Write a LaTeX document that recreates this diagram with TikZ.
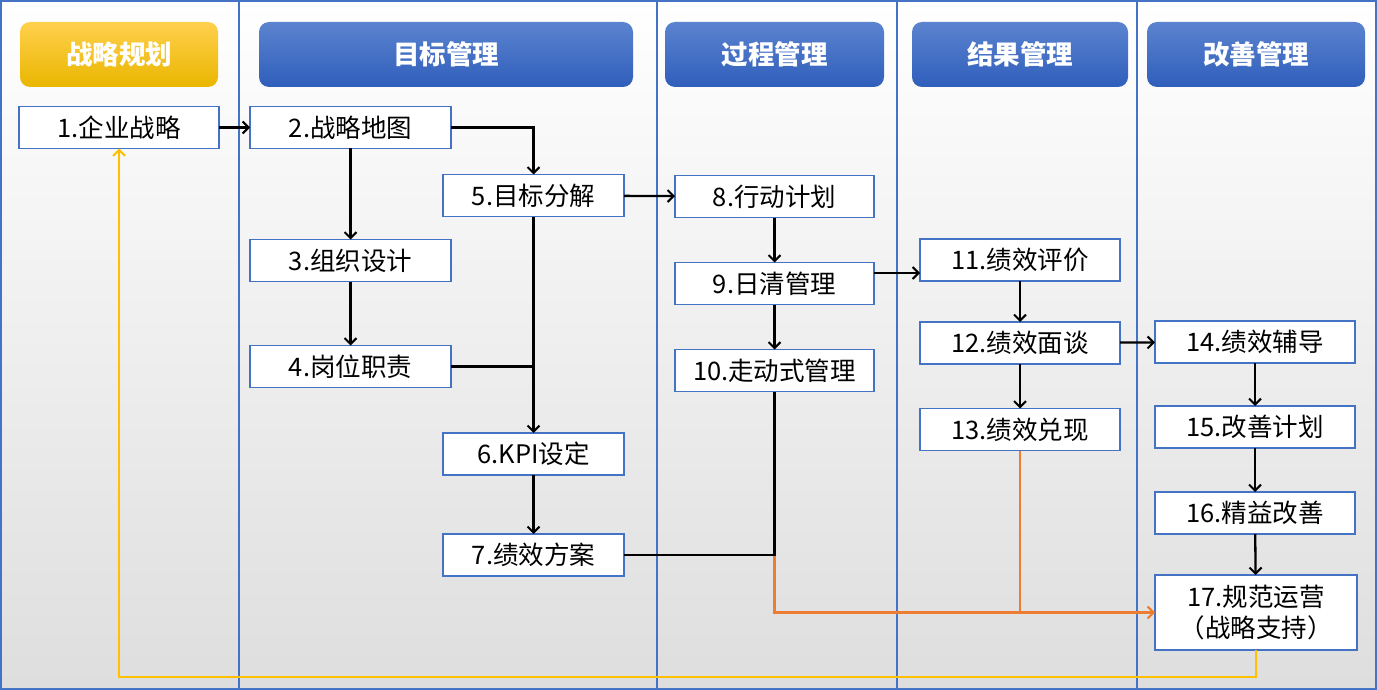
\documentclass[tikz,border=0pt]{standalone}
\usepackage{fontspec}
\setmainfont{Noto Sans CJK SC}
\usetikzlibrary{arrows.meta}
\definecolor{laneblue}{HTML}{4472C4}
\definecolor{hbTop}{HTML}{5B83CF}
\definecolor{hbBot}{HTML}{2F5EBB}
\definecolor{hyTop}{HTML}{FFD04D}
\definecolor{hyMid}{HTML}{FFC000}
\definecolor{hyBot}{HTML}{EAB600}
\definecolor{orgline}{HTML}{ED7D31}
\definecolor{yelline}{HTML}{FFC000}
\tikzset{
  stepbox/.style={draw=laneblue, line width=1.4pt, fill=white, inner sep=0pt, outer sep=0pt,
    minimum height=42pt, font=\fontsize{25.5}{31}\selectfont, align=center},
  headbox/.style={rounded corners=10pt, inner sep=0pt, outer sep=0pt, minimum height=65pt,
    text=white, font=\fontsize{26.5}{31}\selectfont\bfseries},
  bluehead/.style={headbox, top color=hbTop, bottom color=hbBot},
  yellowhead/.style={headbox, top color=hyTop, middle color=hyMid, bottom color=hyBot},
  arr/.style={draw=black, line width=2.3pt, -{Straight Barb[length=6pt,width=12pt,line width=2pt]}},
  plainline/.style={draw=black, line width=2.3pt},
  orgarr/.style={draw=orgline, line width=2.3pt, -{Straight Barb[length=6pt,width=12pt,line width=2pt]}},
  orgline/.style={draw=orgline, line width=2.3pt},
  yelarr/.style={draw=yelline, line width=2.3pt, -{Straight Barb[length=6pt,width=12pt,line width=2pt]}},
  laneline/.style={draw=laneblue, line width=1.8pt},
}
\begin{document}
\begin{tikzpicture}[x=1pt,y=-1pt]
\useasboundingbox (0,0) rectangle (1377,690);
\fill[top color=white, bottom color=black!13] (0,0) rectangle (1377,690);
% lanes
\draw[laneline] (239,0) -- (239,690);
\draw[laneline] (657,0) -- (657,690);
\draw[laneline, line width=1.1pt] (897,0) -- (897,690);
\draw[laneline] (1137,0) -- (1137,690);
\draw[laneline, line width=2.2pt] (1.1,1.1) rectangle (1375.9,688.9);
% headers
\node[yellowhead, minimum width=198pt] (h1) at (119,54.5) {战略规划};
\node[bluehead, minimum width=374pt] (h2) at (446,54.5) {目标管理};
\node[bluehead, minimum width=219pt] (h3) at (774.5,54.5) {过程管理};
\node[bluehead, minimum width=216pt] (h4) at (1020,54.5) {结果管理};
\node[bluehead, minimum width=218pt] (h5) at (1256,54.5) {改善管理};
% boxes
\node[stepbox, minimum width=200pt] (n1) at (119,127.5) {1.企业战略};
\node[stepbox, minimum width=201pt] (n2) at (350.5,127.5) {2.战略地图};
\node[stepbox, minimum width=201pt] (n3) at (350.5,260.5) {3.组织设计};
\node[stepbox, minimum width=201pt] (n4) at (350.5,366.5) {4.岗位职责};
\node[stepbox, minimum width=181pt] (n5) at (533.5,195.5) {5.目标分解};
\node[stepbox, minimum width=181pt] (n6) at (533.5,454) {6.KPI设定};
\node[stepbox, minimum width=181pt] (n7) at (533.5,555) {7.绩效方案};
\node[stepbox, minimum width=199pt] (n8) at (774.5,196.5) {8.行动计划};
\node[stepbox, minimum width=199pt] (n9) at (774.5,283.5) {9.日清管理};
\node[stepbox, minimum width=199pt] (n10) at (774.5,370.5) {10.走动式管理};
\node[stepbox, minimum width=200pt] (n11) at (1020,260) {11.绩效评价};
\node[stepbox, minimum width=200pt] (n12) at (1020,343) {12.绩效面谈};
\node[stepbox, minimum width=200pt] (n13) at (1020,429.5) {13.绩效兑现};
\node[stepbox, minimum width=200pt] (n14) at (1255,342) {14.绩效辅导};
\node[stepbox, minimum width=200pt] (n15) at (1255,427) {15.改善计划};
\node[stepbox, minimum width=200pt] (n16) at (1255,513) {16.精益改善};
\node[stepbox, minimum width=202pt, minimum height=75pt] (n17) at (1256,612.5) {17.规范运营\\（战略支持）};
% connectors
\draw[arr] (n1) -- (n2);
\draw[arr] (n2.east) -| (n5.north);
\draw[arr] (n2) -- (n3);
\draw[arr] (n3) -- (n4);
\draw[plainline] (n4.east) -- (n4.east -| n5.south);
\draw[arr] (n5) -- (n6);
\draw[arr] (n6) -- (n7);
\draw[arr] (n5) -- (n8);
\draw[arr] (n8) -- (n9);
\draw[arr, line width=3pt] (n9) -- (n10);
\draw[arr] ([yshift=10.5pt]n9.east) -- ([yshift=10.5pt]n9.east -| n11.west);
\draw[arr] (n11) -- (n12);
\draw[arr] (n12) -- (n13);
\draw[arr] (n12) -- (n14);
\draw[arr] (n14) -- (n15);
\draw[arr] (n15) -- (n16);
\draw[arr] (n16) -- (n17);
\draw[orgarr] (n10.south) |- (n17.west);
\draw[orgline] (n13.south) -- (n13.south |- n17.west);
\draw[plainline] (n7.east) -| (n10.south);
\draw[yelarr] (n17.south) -- ++(0,27) -| (n1.south);
\end{tikzpicture}
\end{document}
